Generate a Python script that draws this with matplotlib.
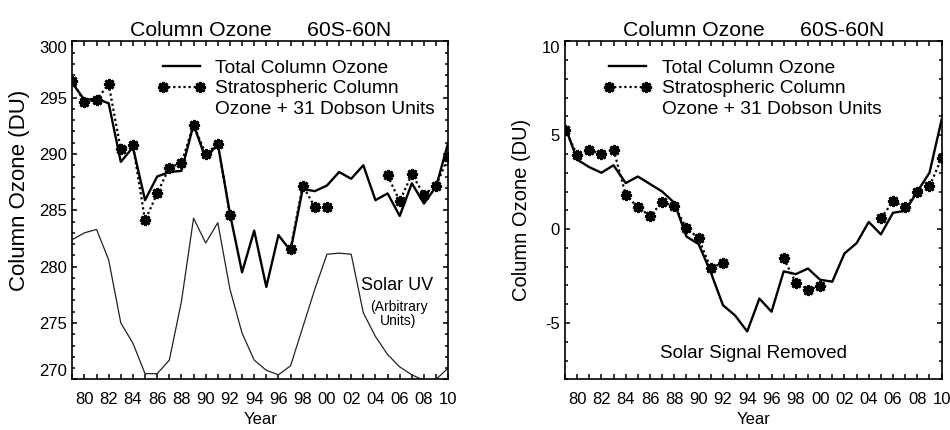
#!/usr/bin/env python3

import numpy as np
from matplotlib import pyplot as plt
from matplotlib.ticker import MultipleLocator, FuncFormatter

# yearly means, 60S-60N
years = list(range(1979, 2011))

total_ozone = [296.3, 294.8, 294.9, 294.5, 289.3, 290.6, 285.9, 288.0,
               288.4, 288.5, 292.6, 289.6, 290.9, 284.7, 279.5, 283.2,
               278.2, 282.8, 281.4, 286.9, 286.7, 287.2, 288.4, 287.8,
               289.0, 285.9, 286.5, 284.5, 287.4, 285.6, 287.1, 291.0]

nan = np.nan
strat_ozone = [296.5, 294.6, 294.8, 296.2, 290.4, 290.8, 284.1, 286.5,
               288.8, 289.2, 292.6, 290.0, 290.9, 284.6, nan, nan,
               nan, nan, 281.6, 287.2, 285.3, 285.3, nan, nan,
               nan, nan, 288.1, 285.8, 288.2, 286.4, 287.2, 289.7]

solar_uv = [282.4, 283.0, 283.3, 280.6, 275.0, 273.2, 270.5, 270.5,
            271.7, 276.9, 284.3, 282.1, 283.9, 278.0, 274.1, 271.7,
            270.8, 270.4, 271.2, 274.6, 278.0, 281.1, 281.2, 281.1,
            275.9, 273.8, 272.2, 271.1, 270.4, 269.9, 270.0, 271.0]

# solar signal removed
total_resid = [5.5, 3.7, 3.3, 3.0, 3.4, 2.45, 2.8, 2.4,
               2.0, 1.4, -0.4, -0.8, -2.3, -4.05, -4.6, -5.45,
               -3.7, -4.4, -2.25, -2.4, -2.1, -2.7, -2.8, -1.3,
               -0.75, 0.38, -0.28, 0.87, 0.97, 2.0, 3.0, 5.83]

strat_resid = [5.3, 3.96, 4.2, 4.02, 4.23, 1.83, 1.15, 0.71,
               1.42, 1.24, 0.05, -0.49, -2.09, -1.79, nan, nan,
               nan, nan, -1.56, -2.86, -3.22, -3.04, nan, nan,
               nan, nan, 0.58, 1.47, 1.2, 1.95, 2.27, 3.79]

TITLE = "Column Ozone      60S-60N"
STAR = (8, 2, 0)


def setup_axes(ax, ylim, yticks, ylabel, ylabel_size, ylabel_x):
    ax.set_xlim(1979, 2010)
    ax.set_ylim(*ylim)
    ax.xaxis.set_major_locator(MultipleLocator(2))
    ax.xaxis.set_minor_locator(MultipleLocator(1))
    ax.xaxis.set_major_formatter(FuncFormatter(lambda v, p: "%02d" % (int(round(v)) % 100)))
    ax.set_yticks(yticks)
    ax.yaxis.set_minor_locator(MultipleLocator(1))
    ax.tick_params(direction="in", top=True, right=True, which="both", width=1.1)
    ax.tick_params(axis="x", which="both", length=3.4, pad=9.5, labelsize=12)
    ax.tick_params(axis="y", which="major", length=3.6, pad=3.5, labelsize=12)
    ax.tick_params(axis="y", which="minor", length=2.1)
    for s in ax.spines.values():
        s.set_linewidth(1.2)
    ax.set_xlabel("Year", fontsize=12, labelpad=3)
    ax.set_ylabel(ylabel, fontsize=ylabel_size)
    ax.yaxis.set_label_coords(ylabel_x[0], ylabel_x[1])
    ax.set_title(TITLE, fontsize=15.3, pad=4)


def plot_panel(ax, total, strat):
    ax.plot(years, total, color="black", lw=1.7, label="Total Column Ozone")
    ax.plot(years, strat, color="black", lw=1.6, ls=(0, (1, 1.3)),
            marker=STAR, ms=8, mew=2.0, label="Stratospheric Column")
    # third legend row, no handle
    ax.plot([], [], color="none", label="Ozone + 31 Dobson Units")


def add_legend(ax, x0):
    ax.legend(loc="upper left", bbox_to_anchor=(x0, 0.946), frameon=False,
              borderpad=0, borderaxespad=0, handlelength=2.55, handletextpad=0.5,
              labelspacing=0.15, numpoints=2, fontsize=13.8)


if __name__ == "__main__":
    plt.rcParams["font.family"] = "Liberation Sans"
    plt.rcParams["axes.unicode_minus"] = False

    fig = plt.figure(figsize=(9.5, 4.3), dpi=100)
    ax1 = fig.add_axes([0.0761, 0.1179, 0.3957, 0.786])
    ax2 = fig.add_axes([0.5947, 0.1179, 0.3965, 0.786])

    # left: with solar cycle
    ax1.plot(years, solar_uv, color="#222222", lw=0.9)
    plot_panel(ax1, total_ozone, strat_ozone)
    setup_axes(ax1, (270, 300), [270, 275, 280, 285, 290, 295, 300],
               "Column Ozone (DU)", 16, (-0.112, 0.558))
    add_legend(ax1, 0.2253)
    ax1.text(2005.8, 278.35, "Solar UV", ha="center", va="center", fontsize=13)
    ax1.text(2005.9, 275.8, "(Arbitrary\nUnits)", ha="center", va="center",
             fontsize=10, linespacing=1.05)

    # right: solar signal removed
    plot_panel(ax2, total_resid, strat_resid)
    setup_axes(ax2, (-8, 10), [-5, 0, 5, 10],
               "Column Ozone (DU)", 14.5, (-0.09, 0.5))
    add_legend(ax2, 0.1017)
    ax2.text(1994.5, -6.6, "Solar Signal Removed", ha="center", va="center", fontsize=13.6)

    # end labels sit inside the frame like the original
    t1 = ax1.yaxis.get_major_ticks()
    t1[-1].label1.set_verticalalignment("top")
    t1[0].label1.set_verticalalignment("bottom")
    t2 = ax2.yaxis.get_major_ticks()
    t2[-1].label1.set_verticalalignment("top")

    fig.savefig("out.png", dpi=100, facecolor="white")
